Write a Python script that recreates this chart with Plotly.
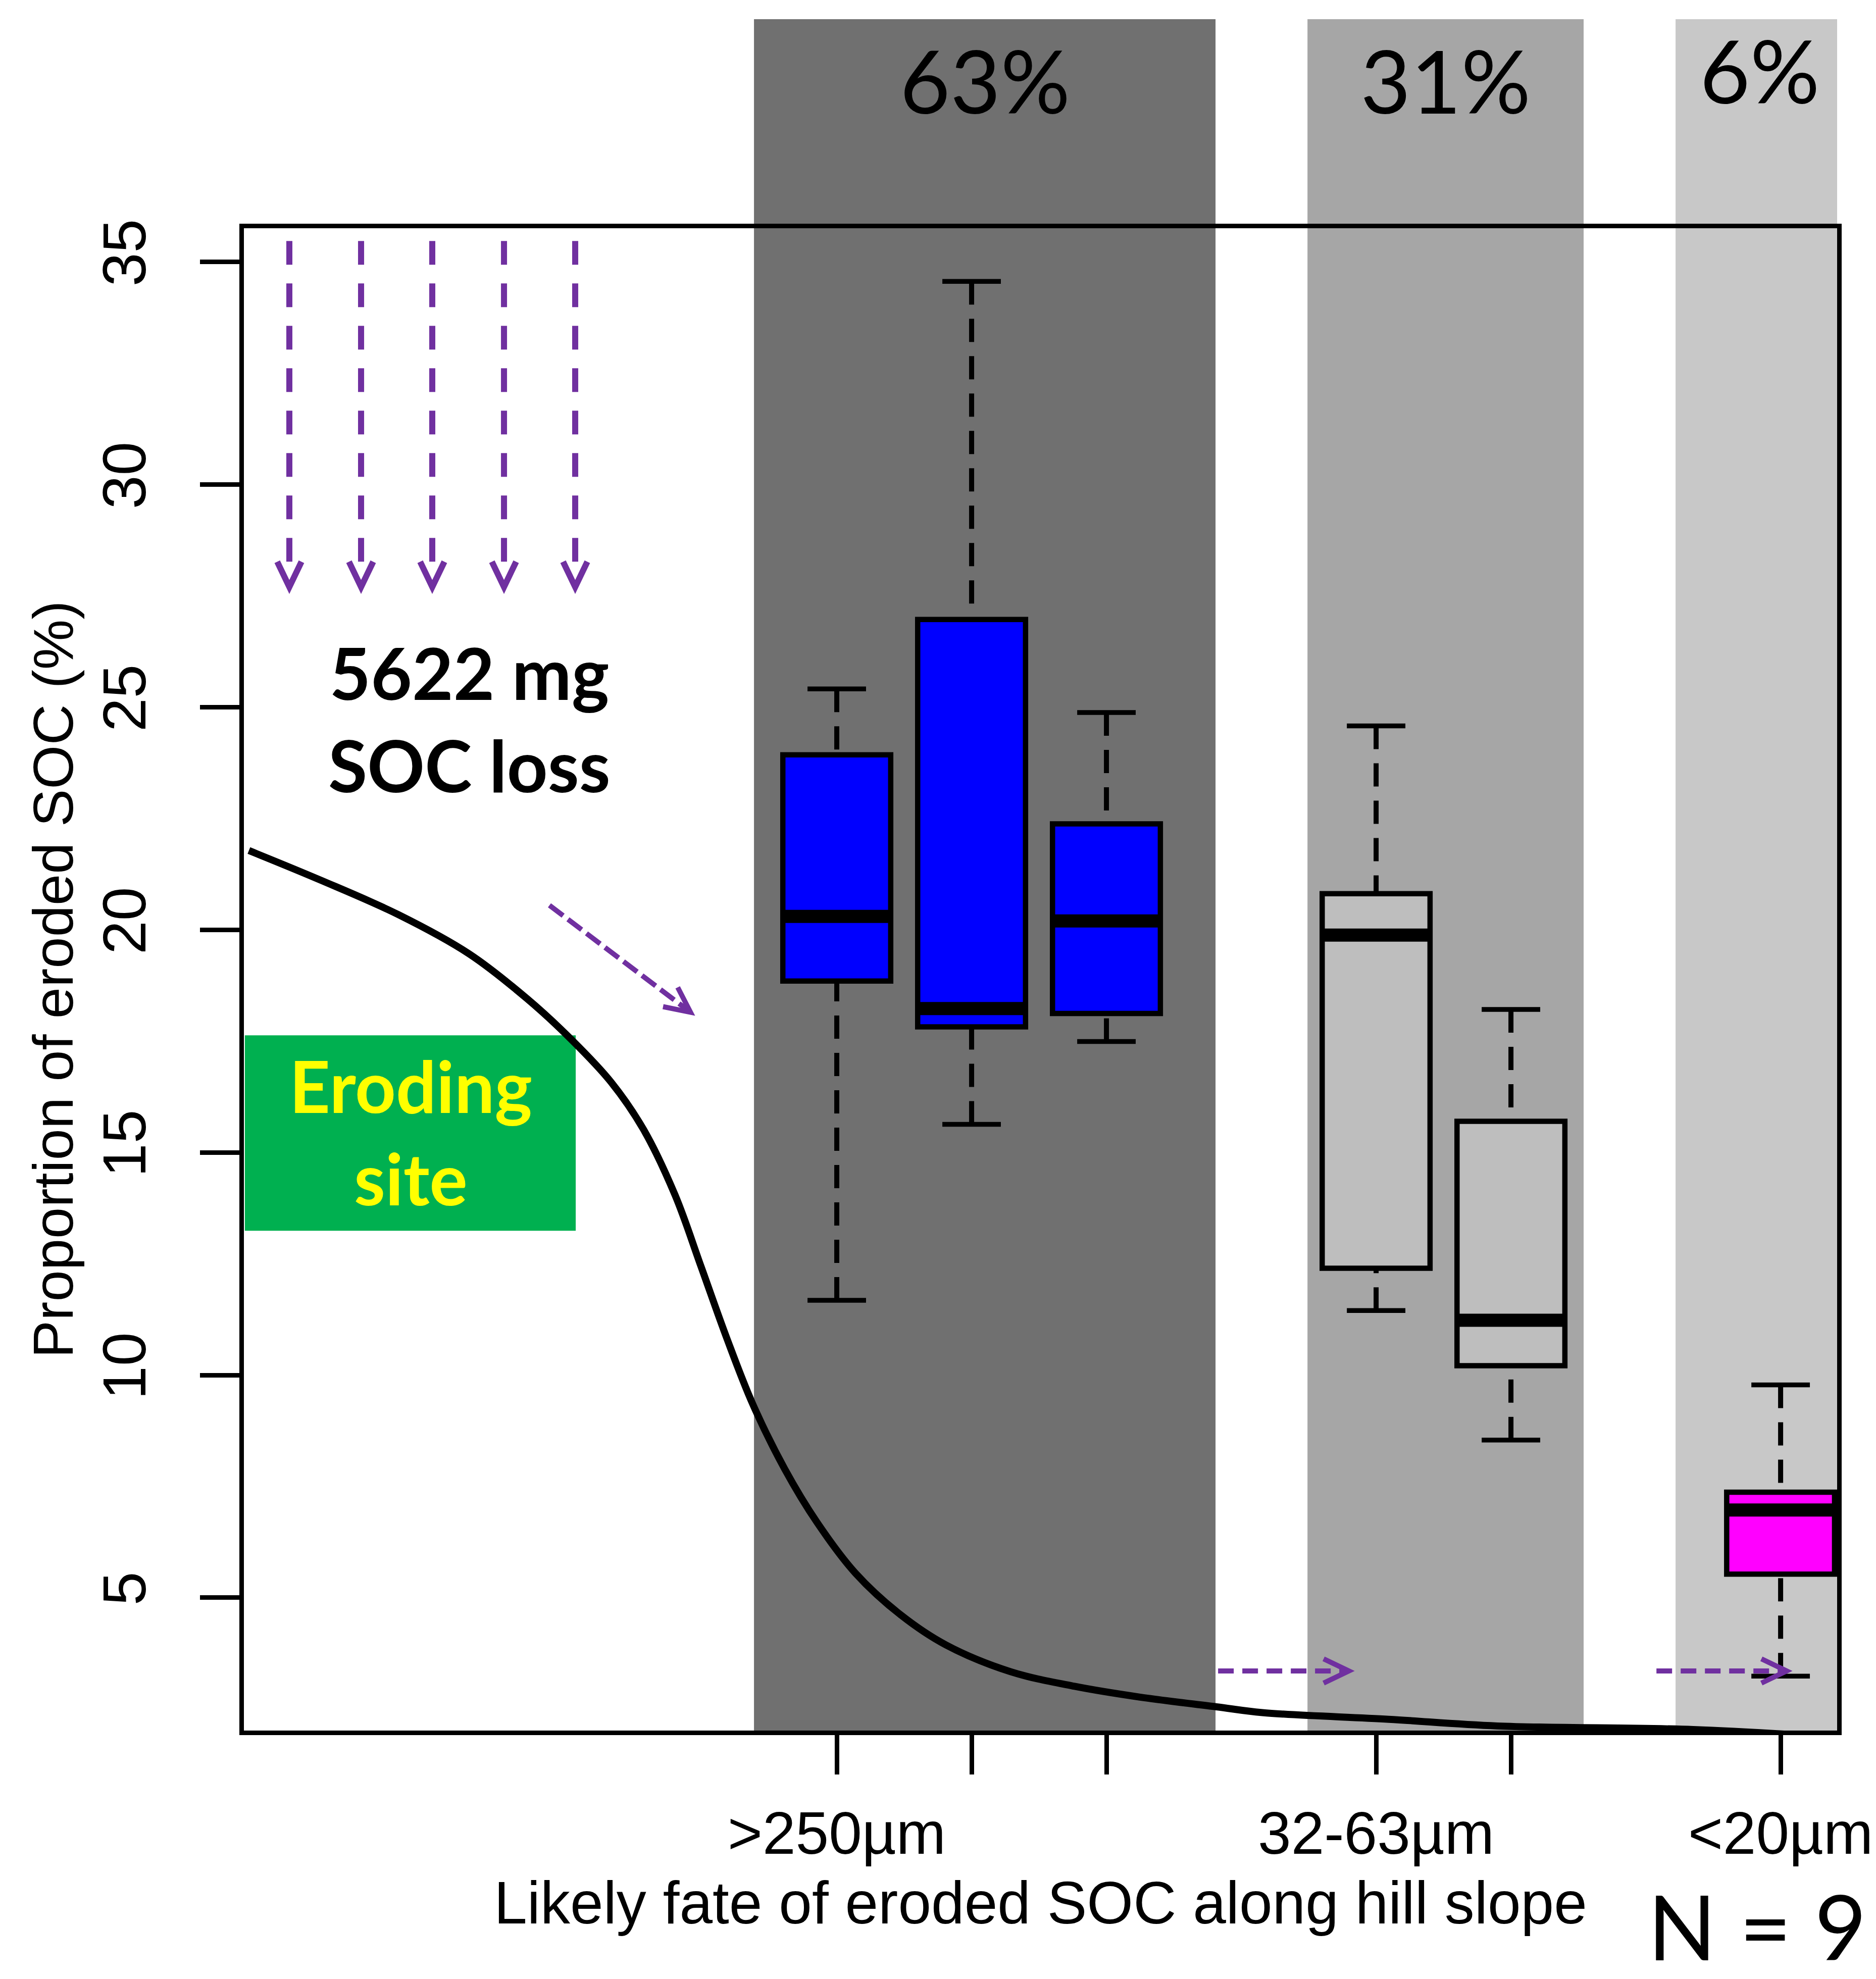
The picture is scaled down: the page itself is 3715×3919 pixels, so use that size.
import math
import plotly.graph_objects as go

# ---- data -----------------------------------------------------------------
# Box-plot statistics of the share of eroded SOC (%) per sediment fraction
positions = [1, 2, 3, 5, 6, 8]
lower_whisker = [11.68, 15.63, 17.49, 11.45, 8.54, 3.24]
q1 = [18.85, 17.82, 18.12, 12.40, 10.21, 5.53]
median = [20.30, 18.23, 20.20, 19.88, 11.23, 6.97]
q3 = [23.93, 26.97, 22.38, 20.81, 15.70, 7.37]
upper_whisker = [25.41, 34.56, 24.88, 24.58, 18.21, 9.78]
box_colors = ["#0000ff", "#0000ff", "#0000ff", "#bebebe", "#bebebe", "#ff00ff"]

tick_positions = [1, 2, 3, 5, 6, 8]
tick_labels = [">250µm", "", "", "32-63µm", "", "<20µm"]
y_ticks = [5, 10, 15, 20, 25, 30, 35]

# Fate groups along the hill slope and their share of the SOC loss
band_start = [0.386, 4.491, 7.221]
band_end = [3.809, 6.539, 8.468]
band_share = ["63%", "31%", "6%"]
band_colors = ["#707070", "#a6a6a6", "#c8c8c8"]

# Sketched hill-slope profile
curve_x = [-3.360, -2.824, -2.251, -1.727, -1.296, -0.963, -0.674, -0.434,
           -0.199, -0.007, 0.184, 0.375, 0.614, 0.854, 1.139, 1.476, 1.809,
           2.288, 2.764, 3.243, 3.816, 4.157, 5.094, 5.899, 7.352, 8.281]
curve_y = [21.78, 21.11, 20.34, 19.46, 18.45, 17.52, 16.58, 15.52, 14.04,
           12.44, 10.83, 9.36, 7.89, 6.69, 5.55, 4.61, 3.94, 3.34, 3.01, 2.77,
           2.55, 2.42, 2.27, 2.12, 2.04, 1.89]

soc_loss_text = "5622 mg<br>SOC loss"
n_text = "N = 9"

# ---- layout geometry ------------------------------------------------------
W, H = 3715, 3919
MARGIN = dict(l=483, r=77, t=452, b=492, pad=0)
X_RANGE = [-3.397, 8.419]
Y_RANGE = [2.017, 35.755]
plot_w = W - MARGIN["l"] - MARGIN["r"]
plot_h = H - MARGIN["t"] - MARGIN["b"]
px_x = plot_w / (X_RANGE[1] - X_RANGE[0])
px_y = plot_h / (Y_RANGE[1] - Y_RANGE[0])

PURPLE = "#7030a0"
ARIAL = "Liberation Sans, Arial, sans-serif"
CAL = "Lato, Noto Sans, sans-serif"

fig = go.Figure()

# box bodies
fig.add_trace(go.Bar(
    x=positions, y=[b - a for a, b in zip(q1, q3)], base=q1, width=0.8,
    marker=dict(color=box_colors, line=dict(color="black", width=10.5)),
    showlegend=False, hoverinfo="skip"))

# dashed whiskers, drawn from the whisker end towards the box
wx, wy = [], []
for p, lo, a, b, hi in zip(positions, lower_whisker, q1, q3, upper_whisker):
    wx += [p, p, None, p, p, None]
    wy += [hi, b, None, lo, a, None]
fig.add_trace(go.Scatter(x=wx, y=wy, mode="lines",
                         line=dict(color="black", width=10, dash="46px,28px"),
                         showlegend=False, hoverinfo="skip"))

# whisker caps
cx, cy = [], []
for p, lo, hi in zip(positions, lower_whisker, upper_whisker):
    cx += [p - 0.217, p + 0.217, None, p - 0.217, p + 0.217, None]
    cy += [hi, hi, None, lo, lo, None]
fig.add_trace(go.Scatter(x=cx, y=cy, mode="lines",
                         line=dict(color="black", width=9.5),
                         showlegend=False, hoverinfo="skip"))

# medians
mx, my = [], []
for p, m in zip(positions, median):
    mx += [p - 0.4, p + 0.4, None]
    my += [m, m, None]
fig.add_trace(go.Scatter(x=mx, y=my, mode="lines",
                         line=dict(color="black", width=26),
                         showlegend=False, hoverinfo="skip"))

# hill-slope profile
fig.add_trace(go.Scatter(x=curve_x, y=curve_y, mode="lines",
                         line=dict(color="black", width=14, shape="spline", smoothing=1.0),
                         showlegend=False, hoverinfo="skip"))

shapes = []
annotations = []

# grey bands for the three fate groups, reaching above the plot frame
for x0, x1, col, lab, ly in zip(band_start, band_end, band_colors, band_share,
                                [1.0988, 1.0988, 1.1055]):
    shapes.append(dict(type="rect", xref="x", yref="paper", x0=x0, x1=x1,
                       y0=0, y1=1.1392, fillcolor=col, line=dict(width=0),
                       layer="below"))
    annotations.append(dict(text=lab, xref="x", yref="paper", x=(x0 + x1) / 2,
                            y=ly, showarrow=False, xanchor="center",
                            yanchor="middle",
                            font=dict(family=CAL, size=172, color="black")))

# eroding-site label box
shapes.append(dict(type="rect", xref="x", yref="y", x0=-3.390, x1=-0.936,
                   y0=13.24, y1=17.63, fillcolor="#00b050", line=dict(width=0),
                   layer="below"))
annotations.append(dict(text="Eroding<br>site", xref="x", yref="y", x=-2.161,
                        y=15.47, showarrow=False, xanchor="center",
                        yanchor="middle", align="center",
                        font=dict(family=CAL, size=141, color="#ffff00",
                                  weight=700)))

annotations.append(dict(text=soc_loss_text, xref="x", yref="y", x=-1.723,
                        y=24.74, showarrow=False, xanchor="center",
                        yanchor="middle", align="center",
                        font=dict(family=CAL, size=141, color="black",
                                  weight=700)))

annotations.append(dict(text=n_text, xref="paper", yref="paper", x=0.9499,
                        y=-0.1298, showarrow=False, xanchor="center",
                        yanchor="middle",
                        font=dict(family=CAL, size=178, color="black")))


def dashed_arrow(x0, y0, x1, y1, dash, width=11, head=50, half=24):
    """Dashed shaft plus an open V head, lengths given in screen pixels."""
    dxp, dyp = (x1 - x0) * px_x, (y1 - y0) * px_y
    length = math.hypot(dxp, dyp)
    ux, uy = dxp / length, dyp / length
    back = 7
    tx, ty = x1 - ux * back / px_x, y1 - uy * back / px_y
    shapes.append(dict(type="line", xref="x", yref="y", x0=x0, y0=y0,
                       x1=x1 - ux * 10 / px_x, y1=y1 - uy * 10 / px_y,
                       line=dict(color=PURPLE, width=width, dash=dash)))
    a1 = (tx + (-ux * head - uy * half) / px_x, ty + (-uy * head + ux * half) / px_y)
    a2 = (tx + (-ux * head + uy * half) / px_x, ty + (-uy * head - ux * half) / px_y)
    path = f"M {a1[0]},{a1[1]} L {tx},{ty} L {a2[0]},{a2[1]}"
    shapes.append(dict(type="path", xref="x", yref="y", path=path,
                       line=dict(color=PURPLE, width=width)))


# vertical loss arrows
for xa in [-3.060, -2.528, -2.000, -1.468, -0.940]:
    dashed_arrow(xa, 35.47, xa, 27.62, "47px,37px", width=12)
# transport arrows
dashed_arrow(-1.131, 20.55, -0.064, 18.10, "34px,12px", width=10)
dashed_arrow(3.828, 3.356, 4.824, 3.356, "31px,17px", width=10)
dashed_arrow(7.079, 3.356, 8.071, 3.356, "31px,17px", width=10)

axis_common = dict(showgrid=False, zeroline=False, showline=True, mirror=True,
                   linewidth=9, linecolor="black", ticks="outside", ticklen=78,
                   tickwidth=9, tickcolor="black")

fig.update_layout(
    width=W, height=H, margin=MARGIN,
    paper_bgcolor="white", plot_bgcolor="white",
    barmode="overlay", showlegend=False, hovermode=False,
    shapes=shapes, annotations=annotations,
    xaxis=dict(range=X_RANGE, tickmode="array", tickvals=tick_positions,
               ticktext=tick_labels, ticklabelstandoff=15,
               tickfont=dict(family=ARIAL, size=118, color="black"),
               title=dict(text="Likely fate of eroded SOC along hill slope",
                          font=dict(family=ARIAL, size=118, color="black"),
                          standoff=35),
               automargin=False, **axis_common),
    yaxis=dict(range=Y_RANGE, tickmode="array", tickvals=y_ticks,
               tickangle=-90, ticklabelstandoff=60,
               tickfont=dict(family=ARIAL, size=120, color="black"),
               title=dict(text="Proportion of eroded SOC (%)",
                          font=dict(family=ARIAL, size=112, color="black"),
                          standoff=0),
               automargin=False, **axis_common),
)

fig.write_html("out.html")
